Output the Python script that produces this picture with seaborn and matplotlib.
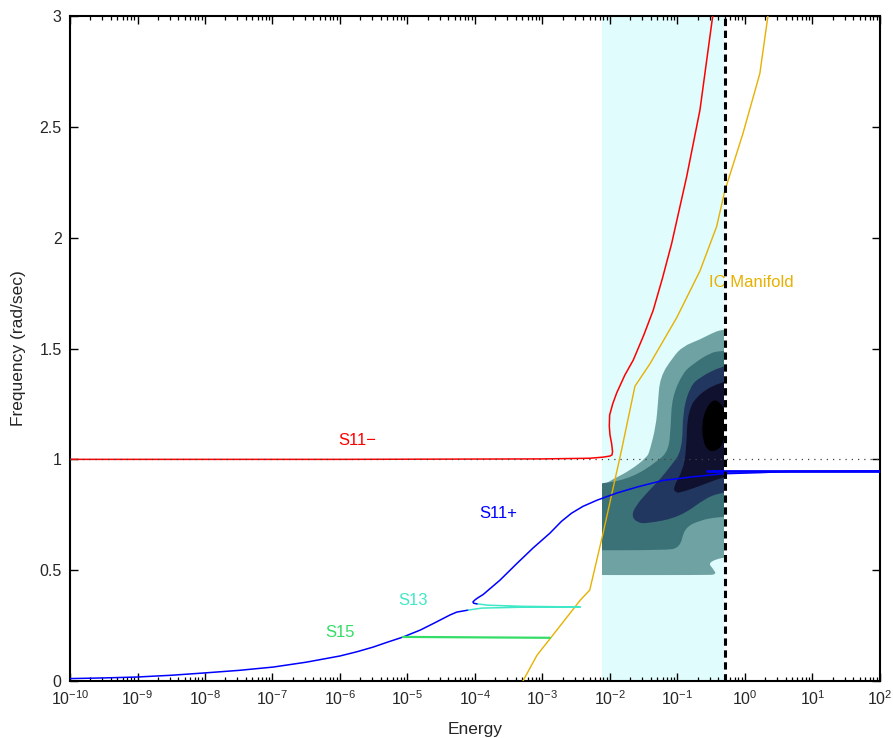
import numpy as np
import pandas as pd
import matplotlib
matplotlib.use("Agg")
import matplotlib.pyplot as plt
from matplotlib.ticker import LogLocator, FuncFormatter, MultipleLocator, FixedLocator, NullFormatter
from matplotlib.path import Path
from matplotlib.patches import PathPatch
import seaborn as sns

# ---------------- data (x stored as log10(Energy)) ----------------
red_logx = [-10, -6, -3, -2.3, -2.1, -2.0, -1.97, -1.962, -1.975, -2.0, -2.01, -2.005, -1.96, -1.90,
            -1.78, -1.655, -1.5, -1.359, -1.22, -1.086, -0.864, -0.667, -0.478]
red_y = [1.0, 1.0, 1.002, 1.005, 1.01, 1.015, 1.02, 1.035, 1.07, 1.11, 1.15, 1.20, 1.25, 1.30,
         1.38, 1.448, 1.56, 1.673, 1.82, 1.974, 2.275, 2.576, 3.0]

ic_logx = [-3.29, -3.08, -2.89, -2.44, -2.30, -2.10, -1.83, -1.63, -1.41, -1.01, -0.667, -0.42, -0.30,
           -0.03, 0.22, 0.34]
ic_y = [0.0, 0.117, 0.19, 0.365, 0.41, 0.67, 1.04, 1.33, 1.43, 1.64, 1.85, 2.05, 2.21,
        2.47, 2.74, 3.0]

blue_low_logx = [-10, -9.5, -9.01, -8.5, -8.03, -7.5, -6.99, -6.5, -6.0, -5.75, -5.51, -5.3, -5.07,
                 -4.81, -4.6, -4.37, -4.27, -4.10]
blue_low_y = [0.011, 0.014, 0.018, 0.026, 0.036, 0.048, 0.063, 0.085, 0.113, 0.132, 0.153, 0.175, 0.198,
              0.23, 0.262, 0.298, 0.311, 0.32]

s13_logx = [-4.10, -3.9, -3.3, -2.44, -3.3, -3.8, -3.97]
s13_y = [0.32, 0.329, 0.333, 0.334, 0.337, 0.342, 0.348]

blue_up_logx = [-3.97, -4.02, -4.03, -4.0, -3.95, -3.88, -3.63, -3.38, -3.14, -2.89, -2.72, -2.57,
                -2.40, -2.19, -1.90, -1.60, -1.41, -1.21, -0.81, -0.33, 0.22, 0.67, 2.0]
blue_up_y = [0.348, 0.351, 0.357, 0.366, 0.377, 0.39, 0.455, 0.53, 0.60, 0.667, 0.72, 0.757,
             0.788, 0.816, 0.848, 0.875, 0.89, 0.905, 0.92, 0.935, 0.94, 0.946, 0.948]

blue_thick_logx = [-0.56, 2.0]
blue_thick_y = [0.949, 0.949]

s15_logx = [-5.07, -2.89]
s15_y = [0.199, 0.195]

x_tick_exponents = list(range(-10, 3))
y_ticks = [0, 0.5, 1, 1.5, 2, 2.5, 3]

# shaded energy band and boundary
band_lo, band_hi = 10 ** -2.12, 10 ** -0.31
boundary_x = 10 ** -0.30

# density contour levels (outer -> inner): outline control points in (log10 E, freq)
lvl1_logx = [-2.5, -2.5, -2.12, -1.96, -1.70, -1.45, -1.41, -1.32, -1.29, -1.26, -1.07, -0.92, -0.67,
             -0.45, -0.33, -0.1, -0.1, -0.31, -0.55, -0.47, -0.42, -0.6, -2.5]
lvl1_y = [0.48, 0.86, 0.88, 0.91, 0.95, 1.01, 1.04, 1.15, 1.25, 1.37, 1.46, 1.51, 1.54,
          1.575, 1.585, 1.59, 0.56, 0.56, 0.535, 0.505, 0.48, 0.478, 0.478]
lvl2_logx = [-2.5, -2.5, -2.07, -1.66, -1.30, -1.13, -1.10, -1.08, -0.92, -0.77, -0.52, -0.35, -0.1,
             -0.1, -0.40, -0.67, -0.90, -0.96, -1.2, -2.5]
lvl2_y = [0.59, 0.885, 0.89, 0.92, 0.99, 1.04, 1.15, 1.28, 1.39, 1.43, 1.48, 1.49, 1.49,
          0.745, 0.74, 0.725, 0.69, 0.60, 0.59, 0.59]
lvl3_logx = [-0.35, -0.67, -0.81, -0.92, -0.93, -1.10, -1.26, -1.45, -1.62, -1.68, -1.60, -1.45, -0.96,
             -0.56, -0.33, -0.1, -0.1]
lvl3_y = [1.42, 1.37, 1.33, 1.22, 1.04, 0.97, 0.91, 0.85, 0.79, 0.745, 0.715, 0.71, 0.74,
          0.83, 0.85, 0.86, 1.43]
lvl4_logx = [-0.35, -0.67, -0.85, -0.87, -0.92, -1.07, -1.02, -0.96, -0.71, -0.33, -0.1, -0.1]
lvl4_y = [1.35, 1.30, 1.22, 1.04, 0.95, 0.87, 0.85, 0.85, 0.875, 0.92, 0.93, 1.36]
lvl5_logx = [-0.47, -0.58, -0.64, -0.62, -0.55, -0.45, -0.34, -0.29, -0.29, -0.38]
lvl5_y = [1.27, 1.23, 1.16, 1.08, 1.04, 1.035, 1.06, 1.12, 1.22, 1.26]

level_colors = ["#6fa3a3", "#3a7277", "#22375f", "#10112e", "#000000"]

# ---------------- style ----------------
sns.set_style("ticks")
plt.rcParams['font.family'] = ['Liberation Sans', 'DejaVu Sans']
plt.rcParams['mathtext.fontset'] = 'custom'
plt.rcParams['mathtext.rm'] = 'Liberation Sans'
plt.rcParams['mathtext.it'] = 'Liberation Sans:italic'

fig = plt.figure(figsize=(8.93, 7.38), dpi=100)
ax = fig.add_axes([0.0784, 0.0772, 0.907, 0.9011])
ax.set_xscale('log')


def E(lx):
    return 10 ** np.asarray(lx, dtype=float)


def line(lx, y, color, lw, z, ls='-'):
    df = pd.DataFrame({"Energy": E(lx), "Freq": y})
    sns.lineplot(data=df, x="Energy", y="Freq", sort=False, estimator=None,
                 color=color, lw=lw, ax=ax, zorder=z, linestyle=ls)


def smooth_patch(lx, ly, color, clip):
    # closed outline drawn as quadratic Bezier curves through the edge midpoints
    pts = np.column_stack([E(lx), np.asarray(ly, dtype=float)])
    n = len(pts)
    verts, codes = [], []

    def mid(a, b):
        return [np.sqrt(a[0] * b[0]), 0.5 * (a[1] + b[1])]
    start = mid(pts[-1], pts[0])
    verts.append(start); codes.append(Path.MOVETO)
    for i in range(n):
        verts.append(pts[i]); codes.append(Path.CURVE3)
        verts.append(mid(pts[i], pts[(i + 1) % n])); codes.append(Path.CURVE3)
    verts.append(start); codes.append(Path.CLOSEPOLY)
    p = PathPatch(Path(verts, codes), facecolor=color, edgecolor='none', lw=0, zorder=1)
    ax.add_patch(p)
    p.set_clip_path(clip)


span = ax.axvspan(band_lo, band_hi, color="#e0fcfc", lw=0, zorder=0)

for lx, ly, c in zip([lvl1_logx, lvl2_logx, lvl3_logx, lvl4_logx, lvl5_logx],
                     [lvl1_y, lvl2_y, lvl3_y, lvl4_y, lvl5_y], level_colors):
    smooth_patch(lx, ly, c, span)

line(red_logx, red_y, "#ff0000", 1.1, 3)
ax.axhline(1.0, color="#444444", lw=0.9, linestyle=(0, (1, 4)), zorder=4)
line(ic_logx, ic_y, "#e8b000", 1.0, 3)
line(blue_low_logx, blue_low_y, "#0000ff", 1.1, 3)
line(s13_logx, s13_y, "#40e8c8", 1.1, 3)
line(blue_up_logx, blue_up_y, "#0000ff", 1.1, 3)
line(blue_thick_logx, blue_thick_y, "#0000ff", 2.0, 3)
line(s15_logx, s15_y, "#33dd66", 1.6, 3)
ax.axvline(boundary_x, color="black", lw=2.2, linestyle=(0, (2.4, 1.5)), zorder=5)

# labels
fs = 12
ax.text(E(-5.75), 1.087, "S11\u2212", color="#ff0000", fontsize=fs, ha="center", va="center")
ax.text(E(-3.66), 0.758, "S11+", color="#0000ff", fontsize=fs, ha="center", va="center")
ax.text(E(-4.92), 0.365, "S13", color="#40e8c8", fontsize=fs, ha="center", va="center")
ax.text(E(-6.0), 0.221, "S15", color="#33dd66", fontsize=fs, ha="center", va="center")
ax.text(E(-0.53), 1.80, "IC Manifold", color="#e8b000", fontsize=fs, ha="left", va="center")

# axes
ax.set_xlim(1e-10, 1e2)
ax.set_ylim(0, 3)
ax.xaxis.set_major_locator(FixedLocator(E(x_tick_exponents)))
ax.xaxis.set_major_formatter(FuncFormatter(lambda v, p: r"$\mathdefault{10^{%d}}$" % round(np.log10(v))))
ax.xaxis.set_minor_locator(LogLocator(base=10, subs=np.arange(2, 10), numticks=300))
ax.xaxis.set_minor_formatter(NullFormatter())
ax.yaxis.set_major_locator(FixedLocator(y_ticks))
ax.yaxis.set_major_formatter(FuncFormatter(lambda v, p: "%g" % v))
ax.tick_params(which='both', direction='in', top=True, right=True, labelsize=11.5, color='black')
ax.tick_params(which='major', length=6, width=1.0)
ax.tick_params(which='minor', length=3, width=0.9)
ax.tick_params(axis='x', which='major', pad=6)
ax.tick_params(axis='y', which='major', pad=6)
for s in ax.spines.values():
    s.set_linewidth(1.5)
    s.set_color('black')
ax.set_xlabel("Energy", fontsize=12.5, labelpad=10)
ax.set_ylabel("Frequency (rad/sec)", fontsize=12.5, labelpad=10)

fig.savefig("out.png", dpi=100)
